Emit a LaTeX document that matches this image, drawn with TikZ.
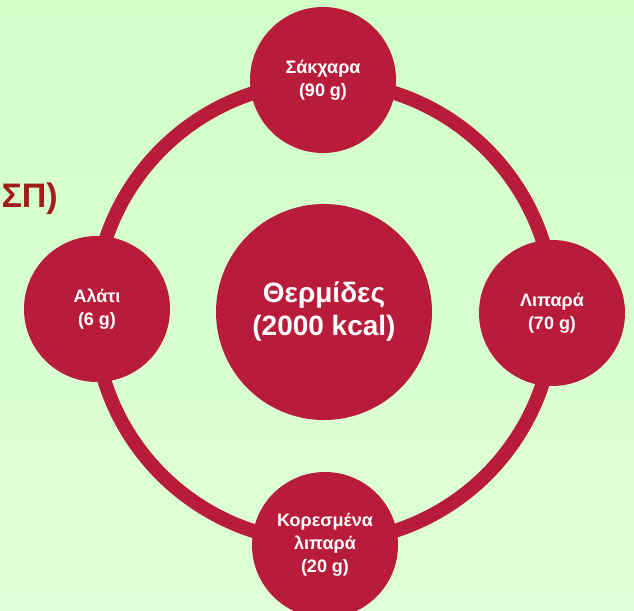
\documentclass[tikz,border=0pt]{standalone}
\usepackage{fontspec}
\setmainfont{Liberation Sans}
\usepackage{tikz}

\definecolor{berry}{RGB}{185,28,58}
\definecolor{rust}{RGB}{160,30,26}
\definecolor{mintTop}{RGB}{208,255,200}
\definecolor{mintBot}{RGB}{224,255,216}

\tikzset{
  food/.style={circle, fill=berry, text=white, minimum size=146pt, inner sep=0pt,
    align=center, font=\bfseries\fontsize{18}{23}\selectfont},
  kcal/.style={food, minimum size=216pt, font=\bfseries\fontsize{28}{33}\selectfont},
  ring/.style={draw=berry, line width=14pt}
}

\begin{document}
\begin{tikzpicture}[x=1pt, y=-1pt]
% --- Background ---
\shade[top color=mintTop, bottom color=mintBot] (0,0) rectangle (634,610);
\useasboundingbox (0,0) rectangle (634,610);

% Title left over (cut off)
\node[anchor=east, text=rust, font=\bfseries\fontsize{34}{40}\selectfont, inner sep=0pt] (title) at (58,199) {ΣΠ)};

% --- Ring ---
\coordinate (hub) at (324,312);
\draw[ring] (hub) circle (230);

% --- Centre ---
\node[kcal] (heat) at (hub) {Θερμίδες\\(2000 kcal)};

% --- Nutrients ---
\node[food] (sugar) at (323,80) {Σάκχαρα\\(90 g)};
\node[food] (fat) at (552,313) {Λιπαρά\\(70 g)};
\node[food] (satfat) at (325,545) {Κορεσμένα\\λιπαρά\\(20 g)};
\node[food] (salt) at (97,309) {Αλάτι\\(6 g)};
\end{tikzpicture}
\end{document}
